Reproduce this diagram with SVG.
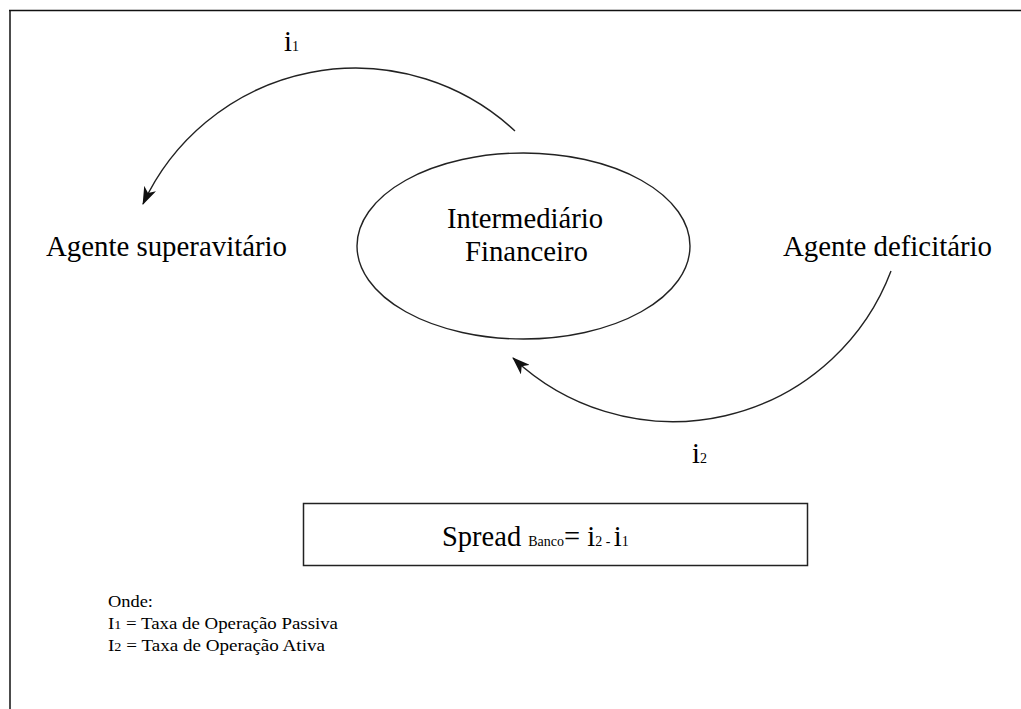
<svg xmlns="http://www.w3.org/2000/svg" width="1021" height="709" viewBox="0 0 1021 709">
  <style>
    .t { font-family: "Liberation Serif", "Times New Roman", serif; fill: #000; }
    .big { font-size: 28.5px; }
    .sub { font-size: 14px; }
    .legend { font-family: "Liberation Serif", "Times New Roman", serif; font-size: 17.5px; fill: #000; }
    .flow { fill: none; stroke: #222; stroke-width: 1.4; }
  </style>
  <defs>
    <marker id="dart" viewBox="0 0 18 13" refX="17" refY="6.5" markerWidth="18" markerHeight="13" markerUnits="userSpaceOnUse" orient="auto">
      <path d="M0,0 L18,6.5 L0,13 L5,6.5 z" fill="#111"/>
    </marker>
  </defs>

  <rect width="1021" height="709" fill="#fff"/>
  <!-- page frame (top and left edges) -->
  <line x1="9" y1="10.5" x2="1021" y2="10.5" stroke="#111" stroke-width="1.5"/>
  <line x1="10" y1="10" x2="10" y2="709" stroke="#111" stroke-width="1.5"/>

  <g id="connectors">
    <path class="flow" d="M515,131 A234,234 0 0,0 143,204" marker-end="url(#dart)"/>
    <path class="flow" d="M891,271 A233,233 0 0,1 513,358" marker-end="url(#dart)"/>
  </g>

  <g id="intermediario">
    <ellipse cx="523.5" cy="246" rx="166.5" ry="93" fill="none" stroke="#222" stroke-width="1.4"/>
    <text class="t big" x="447" y="228" textLength="156" lengthAdjust="spacingAndGlyphs">Intermediário</text>
    <text class="t big" x="465" y="261" textLength="123" lengthAdjust="spacingAndGlyphs">Financeiro</text>
  </g>

  <g id="superavitario">
    <text class="t big" x="46" y="256" textLength="241" lengthAdjust="spacingAndGlyphs">Agente superavitário</text>
  </g>

  <g id="deficitario">
    <text class="t big" x="783" y="256" textLength="209" lengthAdjust="spacingAndGlyphs">Agente deficitário</text>
  </g>

  <g id="label-i1">
    <text class="t big" x="284" y="51">i<tspan class="sub">1</tspan></text>
  </g>

  <g id="label-i2">
    <text class="t big" x="692" y="463">i<tspan class="sub">2</tspan></text>
  </g>

  <g id="spread">
    <rect x="303.5" y="503.5" width="504" height="62" fill="none" stroke="#222" stroke-width="1.5"/>
    <text class="t big" x="442" y="546">Spread <tspan class="sub">Banco</tspan>= i<tspan class="sub">2</tspan><tspan class="sub"> - </tspan>i<tspan class="sub">1</tspan></text>
  </g>

  <g id="legenda">
    <text class="legend" x="108" y="607" textLength="45" lengthAdjust="spacingAndGlyphs">Onde:</text>
    <text class="legend" x="108" y="629" textLength="230" lengthAdjust="spacingAndGlyphs">I<tspan font-size="13">1</tspan> = Taxa de Operação Passiva</text>
    <text class="legend" x="108" y="651" textLength="217" lengthAdjust="spacingAndGlyphs">I<tspan font-size="13">2</tspan> = Taxa de Operação Ativa</text>
  </g>
</svg>
